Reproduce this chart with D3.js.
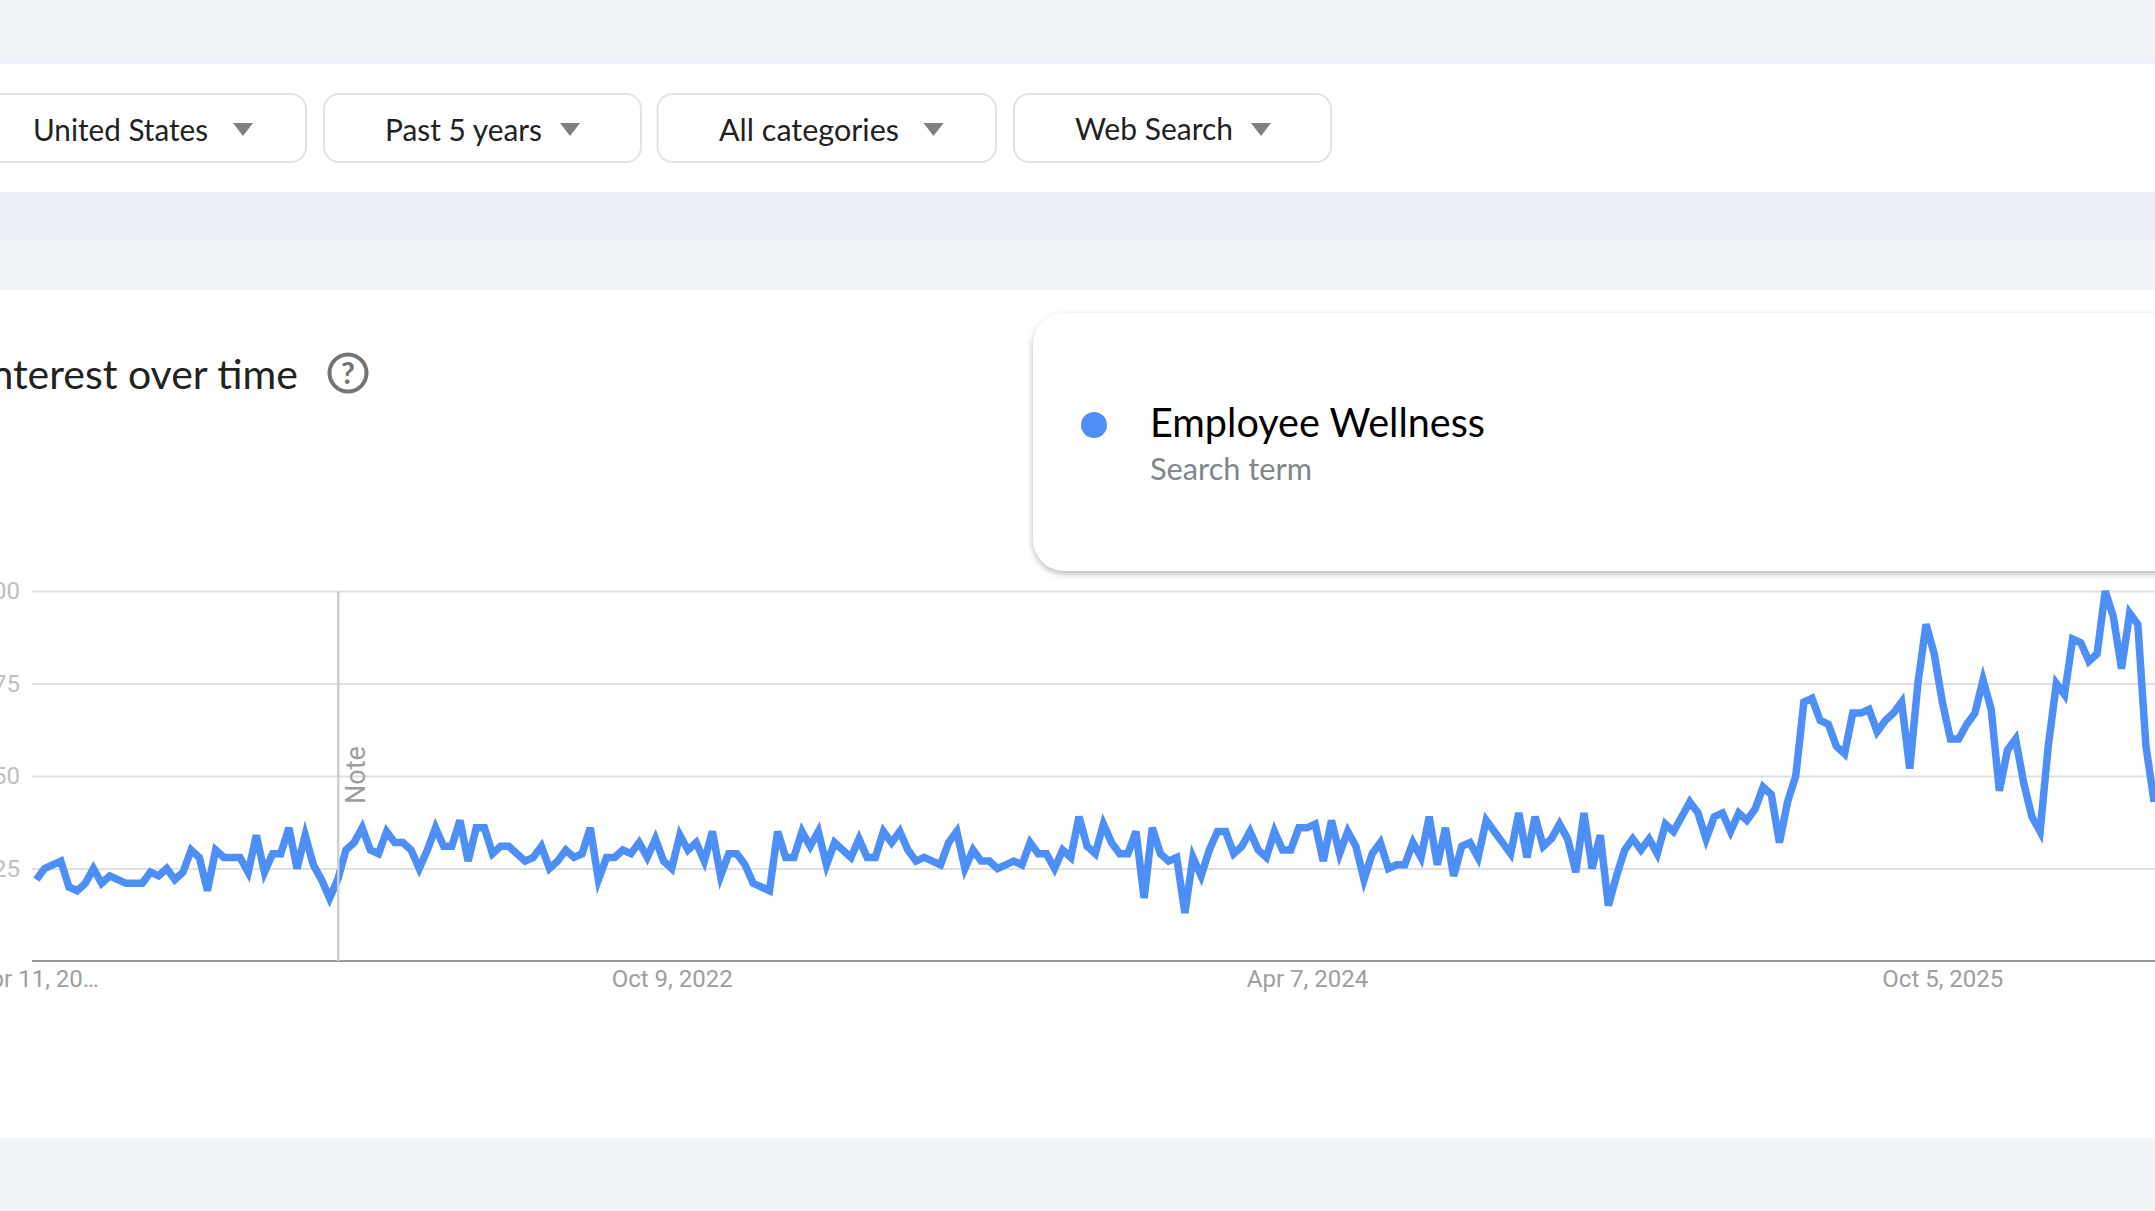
<!DOCTYPE html>
<html>
<head>
<meta charset="utf-8">
<title>Interest over time</title>
<script src="https://cdn.jsdelivr.net/npm/d3@7"></script>
<style>
  html, body { margin: 0; padding: 0; background: #fff; overflow: hidden; }
  svg { display: block; }
  .ui { font-family: Lato, Roboto, sans-serif; }
  .chart-text { font-family: Roboto, Arial, sans-serif; }
</style>
</head>
<body>
<svg id="page" width="2155" height="1211"></svg>
<script>
// Weekly search interest for the term, starting Apr 11, 2021
const firstWeek = "2021-04-11";
const interest = [
  22,25,26,27,20,19,21,25,21,23,22,21,21,21,24,23,25,22,24,30,28,19,30,28,28,28,24,34,24,29,29,36,25,34,26,22,17,22,30,32,
  36,30,29,35,32,32,30,25,30,36,31,31,38,27,36,36,29,31,31,29,27,28,
  31,25,27,30,28,29,36,22,28,28,30,29,32,28,33,27,25,34,30,32,27,35,23,29,29,26,21,20,19,35,28,28,35,31,35,26,32,30,28,33,
  28,28,35,32,35,30,27,28,27,26,32,35,25,30,27,27,25,26,27,26,32,29,29,25,30,28,39,31,29,
  37,32,29,29,35,17,36,29,27,28,13,28,23,30,35,35,29,31,35,30,28,35,30,30,36,36,37,27,38,29,35,31,22,29,32,25,26,26,32,28,
  39,26,36,23,31,32,28,38,35,32,29,40,28,39,31,33,37,33,24,40,25,34,15,23,30,33,
  30,33,29,37,35,39,43,40,33,39,40,35,40,38,41,47,45,32,43,50,70,71,65,64,58,56,67,67,68,62,65,67,70,52,75,91,83,70,60,60,
  64,67,76,68,46,57,60,48,39,35,58,75,72,87,86,81,83,100,93,79,94,91,58,43
];
const yTicks = [25, 50, 75, 100];
const xTickDates = ["2021-04-11", "2022-10-09", "2024-04-07", "2025-10-05"];
const xTickLabels = ["Apr 11, 20…", "Oct 9, 2022", "Apr 7, 2024", "Oct 5, 2025"];
const noteDate = "2021-12-26";

const filters = [
  { label: "United States", x0: -60, x1: 306, textLeft: 33, textRight: 208, arrow: 243, base: 140.5 },
  { label: "Past 5 years", x0: 324, x1: 641, textLeft: 385, textRight: 542, arrow: 570, base: 140.5 },
  { label: "All categories", x0: 657.5, x1: 996, textLeft: 719, textRight: 899, arrow: 933.5, base: 140.5 },
  { label: "Web Search", x0: 1014, x1: 1331, textLeft: 1075, textRight: 1233, arrow: 1261, base: 139.5 }
];
const bands = [
  { y0: 0, y1: 55, fill: "#f0f3f8" },
  { y0: 55, y1: 64, fill: "#ecf0f8" },
  { y0: 192, y1: 240, fill: "#eaeff7" },
  { y0: 240, y1: 290, fill: "#f0f3f8" },
  { y0: 1138, y1: 1211, fill: "#f0f3f8" }
];

const lineColor = "#4d8ff7";
const parseDay = d3.utcParse("%Y-%m-%d");
const svg = d3.select("#page");

const defs = svg.append("defs");
const shadow = defs.append("filter").attr("id", "cardShadow")
  .attr("x", "-5%").attr("y", "-10%").attr("width", "110%").attr("height", "125%");
shadow.append("feDropShadow").attr("dx", 0).attr("dy", 3).attr("stdDeviation", 3)
  .attr("flood-color", "#000").attr("flood-opacity", 0.28);

// Page background bands
svg.selectAll("rect.band").data(bands).join("rect").attr("class", "band")
  .attr("x", 0).attr("width", 2155)
  .attr("y", d => d.y0).attr("height", d => d.y1 - d.y0)
  .attr("fill", d => d.fill);

// Filter chips
const chip = svg.selectAll("g.chip").data(filters).join("g").attr("class", "chip");
chip.append("rect")
  .attr("x", d => d.x0).attr("y", 94).attr("width", d => d.x1 - d.x0).attr("height", 68)
  .attr("rx", 15).attr("fill", "#fff").attr("stroke", "#e3e3e3").attr("stroke-width", 2);
chip.append("text").attr("class", "ui")
  .attr("x", d => d.textLeft).attr("y", d => d.base)
  .attr("font-size", 31).attr("fill", "#222")
  .attr("textLength", d => d.textRight - d.textLeft)
  .attr("lengthAdjust", "spacingAndGlyphs")
  .text(d => d.label);
chip.append("path")
  .attr("d", d => `M${d.arrow - 10},123 h20 l-10,13 z`)
  .attr("fill", "#808080");

// Section heading and help icon
svg.append("text").attr("class", "ui")
  .attr("x", 298).attr("y", 389).attr("text-anchor", "end")
  .attr("font-size", 41).attr("fill", "#222")
  .text("Interest over time");
svg.append("circle").attr("cx", 348).attr("cy", 373).attr("r", 18.5)
  .attr("fill", "none").attr("stroke", "#757575").attr("stroke-width", 4);
svg.append("text").attr("class", "ui")
  .attr("x", 348).attr("y", 384).attr("text-anchor", "middle")
  .attr("font-size", 30).attr("font-weight", 700).attr("fill", "#757575").text("?");

// Legend card
svg.append("rect")
  .attr("x", 1033).attr("y", 313).attr("width", 1300).attr("height", 258)
  .attr("rx", 32).attr("fill", "#fff").attr("filter", "url(#cardShadow)");
svg.append("circle").attr("cx", 1094).attr("cy", 425).attr("r", 13).attr("fill", lineColor);
svg.append("text").attr("class", "ui")
  .attr("x", 1150).attr("y", 437).attr("font-size", 41).attr("fill", "#000")
  .attr("textLength", 335).attr("lengthAdjust", "spacingAndGlyphs")
  .text("Employee Wellness");
svg.append("text").attr("class", "ui")
  .attr("x", 1150).attr("y", 480).attr("font-size", 30).attr("fill", "#80868b")
  .attr("textLength", 162).attr("lengthAdjust", "spacingAndGlyphs")
  .text("Search term");

// Time series chart
const weeks = interest.map((v, i) => ({ date: d3.utcWeek.offset(parseDay(firstWeek), i), value: v }));
const x = d3.scaleUtc()
  .domain([parseDay(firstWeek), weeks[weeks.length - 1].date])
  .range([36.4, 2154.1]);
const y = d3.scaleLinear().domain([0, 100]).range([961, 591]);

const yAxis = svg.append("g").attr("class", "chart-text")
  .attr("transform", "translate(32,0)")
  .call(d3.axisLeft(y).tickValues(yTicks).tickSize(0).tickPadding(12));
yAxis.select(".domain").remove();
yAxis.selectAll("text").attr("font-size", 24).attr("font-family", "Roboto").attr("fill", "#c0c0c0");
yAxis.selectAll(".tick").append("line")
  .attr("x1", 0).attr("x2", 2123).attr("stroke", "#e0e0e0").attr("stroke-width", 2);

const tickDates = xTickDates.map(parseDay);
const xAxis = svg.append("g").attr("class", "chart-text")
  .attr("transform", `translate(0,${y(0)})`)
  .call(d3.axisBottom(x).tickValues(tickDates).tickSize(0).tickPadding(9)
    .tickFormat((d, i) => xTickLabels[i]));
xAxis.select(".domain").remove();
xAxis.selectAll("text").attr("font-size", 24).attr("font-family", "Roboto").attr("fill", "#9e9e9e");

svg.append("line")
  .attr("x1", 32).attr("x2", 2155).attr("y1", y(0)).attr("y2", y(0))
  .attr("stroke", "#9a9a9a").attr("stroke-width", 2);

const line = d3.line().x(d => x(d.date)).y(d => y(d.value));
svg.append("path").datum(weeks)
  .attr("d", line).attr("fill", "none")
  .attr("stroke", lineColor).attr("stroke-width", 7.5).attr("stroke-linejoin", "miter");

// Note marker
const noteX = x(parseDay(noteDate));
svg.append("line")
  .attr("x1", noteX + 0.5).attr("x2", noteX + 0.5).attr("y1", y(100)).attr("y2", y(0))
  .attr("stroke", "#cfcfcf").attr("stroke-width", 2.5);
svg.append("text").attr("class", "chart-text")
  .attr("transform", `translate(${noteX + 27.5},804) rotate(-90)`)
  .attr("font-size", 27).attr("fill", "#9e9e9e").text("Note");
</script>
</body>
</html>
